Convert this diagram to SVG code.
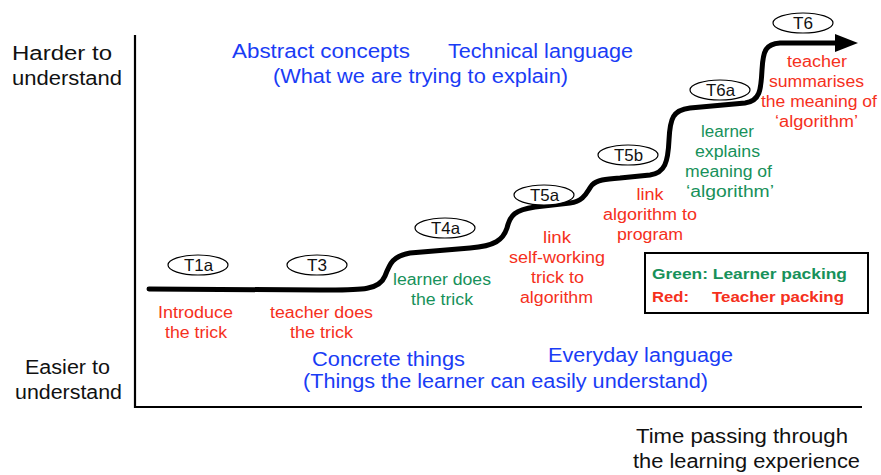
<svg xmlns="http://www.w3.org/2000/svg" width="881" height="475" viewBox="0 0 881 475">
  <style>
    text { font-family: "Liberation Sans", Arial, Helvetica, sans-serif; }
    .axis-label { font-size: 20px; fill: #111; }
    .blue { font-size: 20px; fill: #1a3cf5; }
    .step { font-size: 16px; text-anchor: middle; }
    .red { fill: #f5301c; }
    .green { fill: #17915a; }
    .tag ellipse { fill: #fff; stroke: #000; stroke-width: 1.2; }
    .tag text { font-size: 16.5px; fill: #111; text-anchor: middle; }
    .legend { font-size: 15px; font-weight: bold; }
  </style>

  <!-- axes -->
  <g id="axes" fill="none" stroke="#000" stroke-width="2.2">
    <path d="M135,35 V407 H862"/>
  </g>

  <!-- axis labels -->
  <g id="y-labels">
    <text class="axis-label" x="12" y="60" textLength="100" lengthAdjust="spacingAndGlyphs">Harder to</text>
    <text class="axis-label" x="12" y="85" textLength="110" lengthAdjust="spacingAndGlyphs">understand</text>
    <text class="axis-label" x="25" y="374" textLength="85" lengthAdjust="spacingAndGlyphs">Easier to</text>
    <text class="axis-label" x="15" y="399" textLength="107" lengthAdjust="spacingAndGlyphs">understand</text>
  </g>
  <g id="x-label">
    <text class="axis-label" x="636" y="443" textLength="212" lengthAdjust="spacingAndGlyphs">Time passing through</text>
    <text class="axis-label" x="633" y="468" textLength="227" lengthAdjust="spacingAndGlyphs">the learning experience</text>
  </g>

  <!-- level descriptions -->
  <g id="abstract">
    <text class="blue" x="232" y="58" textLength="178" lengthAdjust="spacingAndGlyphs">Abstract concepts</text>
    <text class="blue" x="448" y="58" textLength="185" lengthAdjust="spacingAndGlyphs">Technical language</text>
    <text class="blue" x="273" y="83" textLength="295" lengthAdjust="spacingAndGlyphs">(What we are trying to explain)</text>
  </g>
  <g id="concrete">
    <text class="blue" x="312" y="366" textLength="153" lengthAdjust="spacingAndGlyphs">Concrete things</text>
    <text class="blue" x="548" y="362" textLength="185" lengthAdjust="spacingAndGlyphs">Everyday language</text>
    <text class="blue" x="303" y="388" textLength="405" lengthAdjust="spacingAndGlyphs">(Things the learner can easily understand)</text>
  </g>

  <!-- learning path -->
  <g id="connectors">
    <path d="M149,289 L320,290 C360,290 379,291 385,276 C390,263 393,256 410,253 L470,248 C495,246 503,240 507,228 C510,215 515,210 535,207 L570,203 C585,201 587,191 592,185 C597,180 605,179 620,178 L650,175 C665,173 668,162 669,140 C670,118 673,110 690,108 L745,103 C760,101 761,90 762,70 C763,50 766,44 780,43 L838,43" fill="none" stroke="#000" stroke-width="5" stroke-linecap="round"/>
    <polygon points="835,34 858,43 835,52" fill="#000"/>
  </g>

  <!-- stages -->
  <g id="T1a" class="tag">
    <ellipse cx="198" cy="265" rx="30" ry="10"/>
    <text x="198.5" y="271" textLength="29" lengthAdjust="spacingAndGlyphs">T1a</text>
  </g>
  <g id="T3" class="tag">
    <ellipse cx="317" cy="265" rx="30" ry="10"/>
    <text x="317" y="271" textLength="20" lengthAdjust="spacingAndGlyphs">T3</text>
  </g>
  <g id="T4a" class="tag">
    <ellipse cx="445" cy="228" rx="30" ry="10"/>
    <text x="445.5" y="234" textLength="29" lengthAdjust="spacingAndGlyphs">T4a</text>
  </g>
  <g id="T5a" class="tag">
    <ellipse cx="544" cy="195" rx="30" ry="10"/>
    <text x="544.5" y="201" textLength="29" lengthAdjust="spacingAndGlyphs">T5a</text>
  </g>
  <g id="T5b" class="tag">
    <ellipse cx="628" cy="155" rx="30" ry="10"/>
    <text x="628.5" y="161" textLength="29" lengthAdjust="spacingAndGlyphs">T5b</text>
  </g>
  <g id="T6a" class="tag">
    <ellipse cx="720" cy="90" rx="30" ry="10"/>
    <text x="720.5" y="96" textLength="29" lengthAdjust="spacingAndGlyphs">T6a</text>
  </g>
  <g id="T6" class="tag">
    <ellipse cx="803" cy="23" rx="30" ry="10"/>
    <text x="803" y="29" textLength="20" lengthAdjust="spacingAndGlyphs">T6</text>
  </g>

  <!-- stage descriptions -->
  <g id="desc-T1a" class="step red">
    <text x="195.5" y="318" textLength="75" lengthAdjust="spacingAndGlyphs">Introduce</text>
    <text x="196" y="338" textLength="62" lengthAdjust="spacingAndGlyphs">the trick</text>
  </g>
  <g id="desc-T3" class="step red">
    <text x="321.5" y="318" textLength="103" lengthAdjust="spacingAndGlyphs">teacher does</text>
    <text x="321.5" y="338" textLength="63" lengthAdjust="spacingAndGlyphs">the trick</text>
  </g>
  <g id="desc-T4a" class="step green">
    <text x="442" y="285" textLength="98" lengthAdjust="spacingAndGlyphs">learner does</text>
    <text x="442" y="305" textLength="62" lengthAdjust="spacingAndGlyphs">the trick</text>
  </g>
  <g id="desc-T5a" class="step red">
    <text x="557" y="243" textLength="28" lengthAdjust="spacingAndGlyphs">link</text>
    <text x="557" y="263" textLength="96" lengthAdjust="spacingAndGlyphs">self-working</text>
    <text x="557.5" y="283" textLength="53" lengthAdjust="spacingAndGlyphs">trick to</text>
    <text x="556.5" y="303" textLength="73" lengthAdjust="spacingAndGlyphs">algorithm</text>
  </g>
  <g id="desc-T5b" class="step red">
    <text x="650" y="200" textLength="27" lengthAdjust="spacingAndGlyphs">link</text>
    <text x="650" y="220" textLength="94" lengthAdjust="spacingAndGlyphs">algorithm to</text>
    <text x="650" y="240" textLength="66" lengthAdjust="spacingAndGlyphs">program</text>
  </g>
  <g id="desc-T6a" class="step green">
    <text x="727.5" y="137" textLength="53" lengthAdjust="spacingAndGlyphs">learner</text>
    <text x="727.5" y="157" textLength="65" lengthAdjust="spacingAndGlyphs">explains</text>
    <text x="728.5" y="177" textLength="87" lengthAdjust="spacingAndGlyphs">meaning of</text>
    <text x="730" y="197" textLength="88" lengthAdjust="spacingAndGlyphs">‘algorithm’</text>
  </g>
  <g id="desc-T6" class="step red">
    <text x="817" y="67" textLength="60" lengthAdjust="spacingAndGlyphs">teacher</text>
    <text x="816.5" y="87" textLength="95" lengthAdjust="spacingAndGlyphs">summarises</text>
    <text x="819" y="107" textLength="116" lengthAdjust="spacingAndGlyphs">the meaning of</text>
    <text x="816.5" y="127" textLength="83" lengthAdjust="spacingAndGlyphs">‘algorithm’</text>
  </g>

  <!-- key -->
  <g id="legend">
    <rect x="645" y="253" width="223" height="60" fill="#fff" stroke="#000" stroke-width="2"/>
    <text class="legend green" x="652" y="279" textLength="195" lengthAdjust="spacingAndGlyphs">Green: Learner packing</text>
    <text class="legend red" x="652" y="302" textLength="37" lengthAdjust="spacingAndGlyphs">Red:</text>
    <text class="legend red" x="712" y="302" textLength="132" lengthAdjust="spacingAndGlyphs">Teacher packing</text>
  </g>
</svg>
